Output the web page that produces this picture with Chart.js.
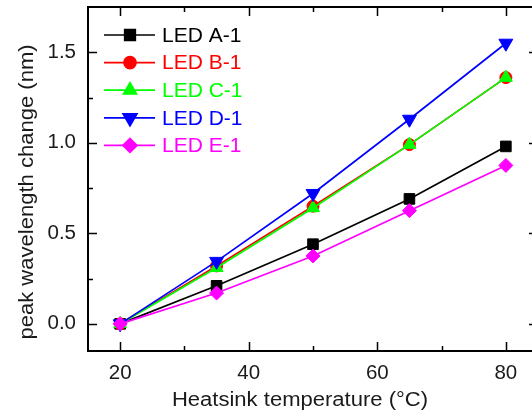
<!DOCTYPE html>
<html>
<head>
<meta charset="utf-8">
<script src="https://cdn.jsdelivr.net/npm/chart.js@4.4.0/dist/chart.umd.min.js"></script>
<style>
  html, body { margin: 0; padding: 0; background: #fff; overflow: hidden; }
  #wrap { width: 538px; height: 415px; }
</style>
</head>
<body>
<div id="wrap"><canvas id="ledChart" width="538" height="415"></canvas></div>
<script>
// data
const temps = [20, 35, 50, 65, 80];
const ledA = [0, 0.21, 0.44, 0.69, 0.98];
const ledB = [0, 0.32, 0.65, 0.99, 1.36];
const ledC = [0, 0.31, 0.64, 0.99, 1.36];
const ledD = [0, 0.345, 0.72, 1.13, 1.55];
const ledE = [0, 0.17, 0.375, 0.625, 0.875];
const seriesNames = ['LED A-1', 'LED B-1', 'LED C-1', 'LED D-1', 'LED E-1'];
const xTicks = [20, 40, 60, 80];
const xMinor = [30, 50, 70];
const yTicks = [0, 0.5, 1.0, 1.5];
const yMinor = [0.25, 0.75, 1.25];
const xTitle = 'Heatsink temperature (°C)';
const yTitle = 'peak wavelength change (nm)';

const fontName = '"Liberation Sans", Arial, sans-serif';

// later series are drawn on top, like in the original
function makeSet(idx, values, color, style, radius, rotation) {
    return {
        label: seriesNames[idx],
        data: temps.map((t, i) => ({x: t, y: values[i]})),
        order: 10 - idx,
        borderColor: color,
        backgroundColor: color,
        borderWidth: 1.7,
        pointStyle: style,
        pointRadius: radius,
        pointRotation: rotation || 0,
        pointBorderWidth: 1,
        pointBackgroundColor: color,
        pointBorderColor: color,
        tension: 0
    };
}

// frame + inward ticks like the original plot
const framePlugin = {
    id: 'frame',
    afterDatasetsDraw(chart) {
        const ctx = chart.ctx;
        const a = chart.chartArea;
        const xs = chart.scales.x, ys = chart.scales.y;
        ctx.save();
        ctx.strokeStyle = '#000';
        ctx.lineWidth = 2;
        ctx.strokeRect(a.left, a.top, a.right - a.left, a.bottom - a.top);
        ctx.lineWidth = 1.5;
        ctx.beginPath();
        const xt = (v, len) => {
            const px = Math.round(xs.getPixelForValue(v)) + 0.5;
            ctx.moveTo(px, a.bottom); ctx.lineTo(px, a.bottom - len);
            ctx.moveTo(px, a.top); ctx.lineTo(px, a.top + len);
        };
        const yt = (v, len) => {
            const py = Math.round(ys.getPixelForValue(v)) + 0.5;
            ctx.moveTo(a.left, py); ctx.lineTo(a.left + len, py);
            ctx.moveTo(a.right, py); ctx.lineTo(a.right - len, py);
        };
        xTicks.forEach(v => xt(v, 9));
        xMinor.forEach(v => xt(v, 5));
        yTicks.forEach(v => yt(v, 9));
        yMinor.forEach(v => yt(v, 5));
        ctx.stroke();

        // axis titles (slightly wide lettering as in the original)
        ctx.fillStyle = '#1a1a1a';
        ctx.font = '19.5px ' + fontName;
        ctx.textAlign = 'center';
        ctx.textBaseline = 'alphabetic';
        ctx.save();
        ctx.translate(300, 406);
        ctx.scale(1.13, 1);
        ctx.fillText(xTitle, 0, 0);
        ctx.restore();
        ctx.save();
        ctx.translate(33, 192);
        ctx.rotate(-Math.PI / 2);
        ctx.scale(1.13, 1);
        ctx.fillText(yTitle, 0, 0);
        ctx.restore();
        ctx.restore();
    }
};

// legend drawn inside the plot: line + marker + coloured text
const legendPlugin = {
    id: 'insideLegend',
    afterDraw(chart) {
        const ctx = chart.ctx;
        ctx.save();
        ctx.font = '21px ' + fontName;
        ctx.textBaseline = 'middle';
        const sets = chart.data.datasets;
        sets.forEach((ds, i) => {
            const y = 35 + i * 27.6;
            ctx.strokeStyle = ds.borderColor;
            ctx.lineWidth = 1.7;
            ctx.beginPath();
            ctx.moveTo(104, y); ctx.lineTo(155, y);
            ctx.stroke();
            ctx.fillStyle = ds.backgroundColor;
            Chart.helpers.drawPoint(ctx, {
                pointStyle: ds.pointStyle,
                radius: ds.pointRadius,
                rotation: ds.pointRotation,
                borderWidth: 1
            }, 130, y);
            ctx.fillStyle = ds.borderColor;
            ctx.textAlign = 'left';
            ctx.fillText(ds.label, 162, y + 1);
        });
        ctx.restore();
    }
};

const ctx = document.getElementById('ledChart').getContext('2d');
const ledChart = new Chart(ctx, {
    type: 'line',
    data: {
        datasets: [
            makeSet(0, ledA, '#000000', 'rect', 7.5),
            makeSet(1, ledB, '#ff0000', 'circle', 6),
            makeSet(2, ledC, '#00ff00', 'triangle', 7.5),
            makeSet(3, ledD, '#0000ff', 'triangle', 8, 180),
            makeSet(4, ledE, '#ff00ff', 'rectRot', 7)
        ]
    },
    options: {
        responsive: false,
        animation: false,
        devicePixelRatio: 1,
        layout: { autoPadding: false, padding: { top: 7, right: 0, left: 0, bottom: 0 } },
        plugins: {
            legend: { display: false },
            tooltip: { enabled: false }
        },
        scales: {
            x: {
                type: 'linear',
                min: 15,
                max: 85,
                afterBuildTicks: s => { s.ticks = xTicks.map(v => ({value: v})); },
                afterFit: s => {
                    s.height = 64;
                    s.paddingLeft = 0; s.paddingRight = 0;
                },
                grid: { display: false, drawTicks: false },
                border: { display: false },
                ticks: {
                    color: '#1a1a1a',
                    padding: 10,
                    font: { family: fontName, size: 20.5 }
                }
            },
            y: {
                type: 'linear',
                min: -0.15,
                max: 1.75,
                afterBuildTicks: s => { s.ticks = yTicks.map(v => ({value: v})); },
                afterFit: s => {
                    s.width = 88;
                    s.paddingTop = 0; s.paddingBottom = 0;
                },
                grid: { display: false, drawTicks: false },
                border: { display: false },
                ticks: {
                    color: '#1a1a1a',
                    padding: 12,
                    font: { family: fontName, size: 20.5 },
                    callback: v => v.toFixed(1)
                }
            }
        }
    },
    plugins: [framePlugin, legendPlugin]
});
</script>
</body>
</html>
